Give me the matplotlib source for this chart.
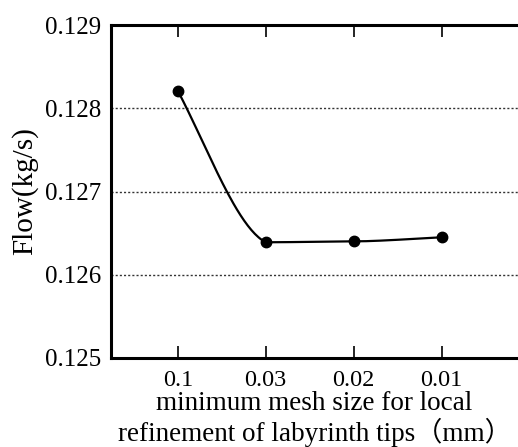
import numpy as np
import matplotlib

matplotlib.use("Agg")

import matplotlib.pyplot as plt

# data
mesh_labels = ["0.1", "0.03", "0.02", "0.01"]
flow = [0.12821, 0.12639, 0.12640, 0.12645]
y_ticks = [0.125, 0.126, 0.127, 0.128, 0.129]


def smooth_curve(xs, ys, n=50, inner=0.3, end=1.1):
    # piecewise hermite, roughly like the spreadsheet "smoothed line"
    xs = np.asarray(xs, dtype=float)
    ys = np.asarray(ys, dtype=float)
    d = np.diff(ys) / np.diff(xs)
    t = np.linspace(0, 1, n)
    outx, outy = [], []
    for k in range(len(d)):
        m0 = end * d[k] if k == 0 else inner * d[k]
        m1 = end * d[k] if k == len(d) - 1 else inner * d[k]
        h = xs[k + 1] - xs[k]
        h00 = 2 * t ** 3 - 3 * t ** 2 + 1
        h10 = t ** 3 - 2 * t ** 2 + t
        h01 = -2 * t ** 3 + 3 * t ** 2
        h11 = t ** 3 - t ** 2
        outx.extend(xs[k] + t * h)
        outy.extend(h00 * ys[k] + h10 * h * m0 + h01 * ys[k + 1] + h11 * h * m1)
    return outx, outy


plt.rcParams['font.family'] = ['Liberation Serif', 'Noto Sans CJK SC']

fig = plt.figure(figsize=(5.18, 4.47), dpi=100)
ax = fig.add_axes([111 / 518, (447 - 358) / 447, (518 - 111) / 518, (358 - 25) / 447])

x = np.arange(len(mesh_labels))
cx, cy = smooth_curve(x, flow)
ax.plot(cx, cy, color="black", linewidth=1.6, zorder=3)
ax.plot(x, flow, "o", color="black", markersize=7.5, zorder=4)

ax.set_xlim(-0.76, 3.87)
ax.set_ylim(0.125, 0.129)
ax.set_xticks(x)
ax.set_xticklabels(mesh_labels, fontsize=17.5)
ax.set_yticks(y_ticks)
ax.set_yticklabels(["%.3f" % v for v in y_ticks], fontsize=18)

for v in y_ticks[1:-1]:
    ax.axhline(v, color="#333333", linewidth=1.0, linestyle=(0, (1.5, 1.5)), zorder=1)

ax.tick_params(axis="x", direction="in", top=True, length=8.5, width=1.2, pad=9)
ax.tick_params(axis="y", length=0, pad=7)

for side in ["left", "top", "bottom"]:
    ax.spines[side].set_linewidth(2.2)
ax.spines["right"].set_visible(False)

ax.set_ylabel("Flow(kg/s)", fontsize=21, labelpad=5)
ax.set_xlabel("minimum mesh size for local\nrefinement of labyrinth tips（mm）",
              fontsize=19.5, labelpad=0, linespacing=1.05)

plt.savefig("out.png", dpi=100)
